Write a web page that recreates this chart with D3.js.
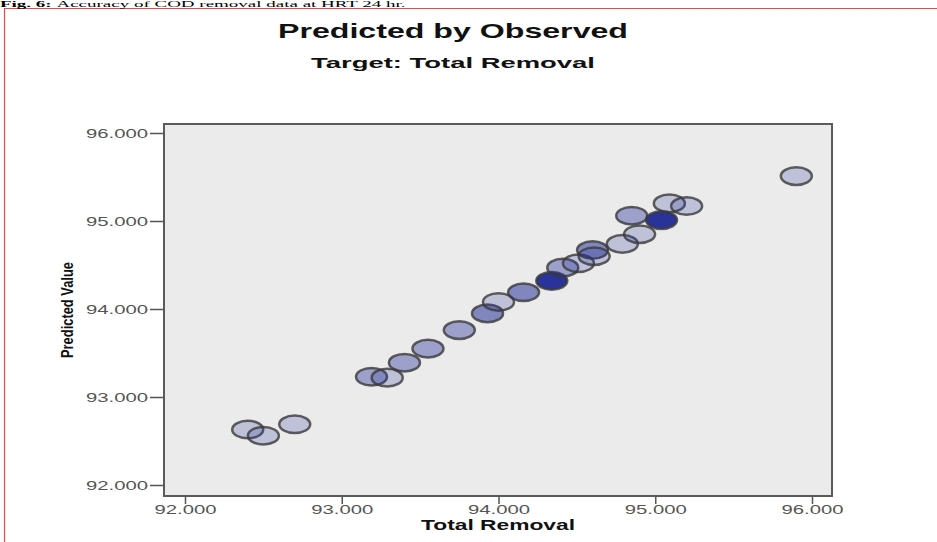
<!DOCTYPE html>
<html>
<head>
<meta charset="utf-8">
<script src="https://cdn.jsdelivr.net/npm/d3@7"></script>
<style>
  html, body { margin: 0; padding: 0; background: #ffffff; }
  svg { display: block; }
</style>
</head>
<body>
<svg id="chart" width="937" height="542"></svg>
<script>
// Observed total removal vs. model-predicted value (%)
const observed  = [92.40, 92.50, 92.70, 93.19, 93.29, 93.40, 93.55, 93.75, 93.93, 94.00, 94.16, 94.34,
                   94.41, 94.51, 94.60, 94.61, 94.79, 94.85, 94.90, 95.04, 95.09, 95.20, 95.90];
const predicted = [92.63, 92.56, 92.69, 93.23, 93.22, 93.39, 93.55, 93.76, 93.95, 94.08, 94.19, 94.32,
                   94.47, 94.52, 94.67, 94.60, 94.74, 95.06, 94.85, 95.01, 95.20, 95.17, 95.51];
// number of cases drawn on top of each other at each point
const caseCount = [1, 1, 1, 2, 1, 2, 2, 2, 3, 1, 3, 14,
                   2, 1, 3, 1, 1, 2, 1, 14, 1, 1, 1];
const xTicks = [92, 93, 94, 95, 96];
const yTicks = [92, 93, 94, 95, 96];

const svg = d3.select("#chart");
const W = 937, H = 542;

// page frame lines
svg.append("line").attr("x1", 4.5).attr("x2", 4.5).attr("y1", 8).attr("y2", H)
   .attr("stroke", "#e84a4a").attr("stroke-width", 1.2);
svg.append("line").attr("x1", 4).attr("x2", W).attr("y1", 8.5).attr("y2", 8.5)
   .attr("stroke", "#e84a4a").attr("stroke-width", 1.2);

// caption line squeezed into the strip above the frame
const cap = svg.append("text")
   .attr("transform", "translate(0,6.6) scale(1,0.42)")
   .attr("x", 0).attr("y", 0)
   .attr("font-family", "Liberation Serif, Times New Roman, serif")
   .attr("font-size", 19).attr("fill", "#000");
cap.append("tspan").attr("font-weight", "bold").text("Fig. 6: ");
cap.append("tspan").text("Accuracy of COD removal data at HRT 24 hr.");

// plot frame
const frame = { left: 164, top: 124, right: 832, bottom: 496 };

const x = d3.scaleLinear().domain([92, 96]).range([185, 812]);
const y = d3.scaleLinear().domain([92, 96]).range([485, 133]);

svg.append("rect")
   .attr("x", frame.left).attr("y", frame.top)
   .attr("width", frame.right - frame.left).attr("height", frame.bottom - frame.top)
   .attr("fill", "#ebebeb").attr("stroke", "#5a5a5a").attr("stroke-width", 2);

// titles
svg.append("text").attr("x", 453).attr("y", 38).attr("text-anchor", "middle")
   .attr("font-family", "Liberation Sans, Arial, sans-serif").attr("font-weight", "bold")
   .attr("font-size", 20.5).attr("fill", "#111")
   .attr("textLength", 350).attr("lengthAdjust", "spacingAndGlyphs")
   .text("Predicted by Observed");
svg.append("text").attr("x", 453).attr("y", 68).attr("text-anchor", "middle")
   .attr("font-family", "Liberation Sans, Arial, sans-serif").attr("font-weight", "bold")
   .attr("font-size", 15).attr("fill", "#111")
   .attr("textLength", 284).attr("lengthAdjust", "spacingAndGlyphs")
   .text("Target: Total Removal");

const fmt = d3.format(".3f");

// y axis
const yAxis = svg.append("g").attr("transform", `translate(${frame.left},0)`)
   .call(d3.axisLeft(y).tickValues(yTicks).tickFormat(fmt).tickSize(14).tickPadding(2));
yAxis.select(".domain").remove();
yAxis.selectAll(".tick line").attr("stroke", "#555").attr("stroke-width", 1.5);
yAxis.selectAll(".tick text")
   .attr("font-family", "Liberation Sans, Arial, sans-serif").attr("font-size", 13)
   .attr("fill", "#555").attr("textLength", 62).attr("lengthAdjust", "spacingAndGlyphs");

// x axis
const xAxis = svg.append("g").attr("transform", `translate(0,${frame.bottom})`)
   .call(d3.axisBottom(x).tickValues(xTicks).tickFormat(fmt).tickSize(8).tickPadding(1));
xAxis.select(".domain").remove();
xAxis.selectAll(".tick line").attr("stroke", "#555").attr("stroke-width", 1.5);
xAxis.selectAll(".tick text")
   .attr("font-family", "Liberation Sans, Arial, sans-serif").attr("font-size", 13)
   .attr("fill", "#555").attr("textLength", 62).attr("lengthAdjust", "spacingAndGlyphs");

// axis titles
svg.append("text").attr("x", 498).attr("y", 530).attr("text-anchor", "middle")
   .attr("font-family", "Liberation Sans, Arial, sans-serif").attr("font-weight", "bold")
   .attr("font-size", 14).attr("fill", "#111")
   .attr("textLength", 154).attr("lengthAdjust", "spacingAndGlyphs")
   .text("Total Removal");
svg.append("text").attr("transform", "translate(73,310) rotate(-90)").attr("text-anchor", "middle")
   .attr("font-family", "Liberation Sans Narrow, Liberation Sans, Arial, sans-serif").attr("font-weight", "bold")
   .attr("font-size", 17).attr("fill", "#111")
   .attr("textLength", 96).attr("lengthAdjust", "spacingAndGlyphs")
   .text("Predicted Value");

// points: stacked semi-transparent markers darken where cases coincide
const pts = observed.map((o, i) => ({ o, p: predicted[i], n: caseCount[i] }));
svg.append("g").selectAll("ellipse").data(pts).join("ellipse")
   .attr("cx", d => x(d.o)).attr("cy", d => y(d.p))
   .attr("rx", 15.5).attr("ry", 8.8)
   .attr("fill", "rgb(34,44,150)")
   .attr("fill-opacity", d => 1 - Math.pow(0.78, d.n))
   .attr("stroke", "#3a3a3a").attr("stroke-opacity", 0.8).attr("stroke-width", 2.5);
</script>
</body>
</html>
